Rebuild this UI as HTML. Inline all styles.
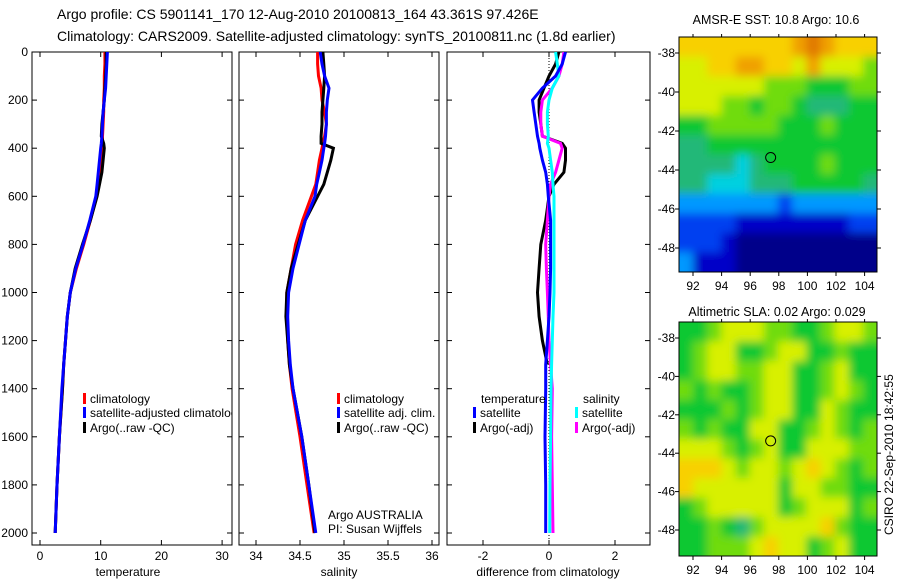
<!DOCTYPE html>
<html><head><meta charset="utf-8"><style>
body{margin:0;background:#fff;}
svg{display:block;font-family:"Liberation Sans",sans-serif;}
</style></head><body>
<svg id="chart" width="900" height="580">
<defs>
<filter id="blur" filterUnits="userSpaceOnUse" x="660" y="0" width="240" height="580"><feGaussianBlur stdDeviation="4.5"/></filter>
<clipPath id="c1"><rect x="32" y="52" width="200" height="493"/></clipPath>
<clipPath id="c2"><rect x="239" y="52" width="200" height="493"/></clipPath>
<clipPath id="c3"><rect x="447" y="52" width="203" height="493"/></clipPath>
<clipPath id="m1"><rect x="679" y="37" width="198" height="235"/></clipPath>
<clipPath id="m2"><rect x="679" y="322" width="198" height="234"/></clipPath>
</defs>
<text x="57" y="19" font-size="14">Argo profile: CS 5901141_170 12-Aug-2010 20100813_164 43.361S 97.426E</text>
<text x="57" y="41" font-size="14">Climatology: CARS2009. Satellite-adjusted climatology: synTS_20100811.nc (1.8d earlier)</text>
<text x="776" y="24" font-size="12.5" text-anchor="middle">AMSR-E SST: 10.8 Argo: 10.6</text>
<text x="777" y="316" font-size="12.5" text-anchor="middle">Altimetric SLA: 0.02 Argo: 0.029</text>
<text transform="translate(893,535) rotate(-90)" font-size="12">CSIRO 22-Sep-2010 18:42:55</text>
<text x="128" y="576" font-size="12" text-anchor="middle">temperature</text>
<text x="339" y="576" font-size="12" text-anchor="middle">salinity</text>
<text x="548" y="576" font-size="12" text-anchor="middle">difference from climatology</text>
<text x="328" y="519" font-size="12">Argo AUSTRALIA</text>
<text x="328" y="533" font-size="12">PI: Susan Wijffels</text>
<g id="g"></g>
</svg>
<script>
// ---------- data ----------
const depthTicks=[0,200,400,600,800,1000,1200,1400,1600,1800,2000];
const tempTicks=[0,10,20,30];
const salTicks=[34,34.5,35,35.5,36];
const diffTicks=[-2,0,2];
const depths=[0,50,100,150,200,250,300,350,380,400,450,500,550,600,700,800,900,1000,1100,1200,1300,1400,1600,1800,2000];
const tempClim=[10.7,10.7,10.6,10.6,10.5,10.5,10.4,10.3,10.3,10.3,10.1,9.9,9.6,9.3,8.3,7.2,6.0,5.0,4.5,4.2,3.9,3.7,3.2,2.8,2.5];
const tempSat =[11.1,11.0,10.9,10.8,10.6,10.4,10.3,10.2,10.1,10.0,9.8,9.6,9.4,9.2,8.2,7.1,5.9,5.0,4.5,4.2,3.9,3.6,3.2,2.8,2.5];
const tempArgo=[10.9,10.9,10.8,10.7,10.6,10.4,10.2,10.1,10.5,10.6,10.4,10.2,9.8,9.4,8.3,7.0,5.8,5.0,4.5,4.2,3.9,3.7,3.2,2.8,2.5];
const salClim=[34.70,34.70,34.71,34.74,34.75,34.78,34.80,34.78,34.76,34.75,34.72,34.70,34.68,34.63,34.53,34.45,34.40,34.35,34.35,34.36,34.38,34.41,34.50,34.58,34.66];
const salSat =[34.73,34.75,34.78,34.83,34.81,34.80,34.80,34.79,34.78,34.77,34.75,34.72,34.69,34.67,34.56,34.49,34.42,34.37,34.36,34.37,34.39,34.42,34.52,34.60,34.68];
const salArgo=[34.76,34.77,34.78,34.77,34.76,34.75,34.75,34.74,34.74,34.88,34.85,34.81,34.77,34.70,34.56,34.48,34.40,34.35,34.34,34.36,34.38,34.42,34.52,34.60,34.67];
const dTempSat =[0.5,0.4,0.2,-0.2,-0.5,-0.45,-0.4,-0.35,-0.3,-0.28,-0.2,-0.1,-0.05,-0.02,0.05,0.05,0.05,0.03,0.0,-0.05,-0.1,-0.1,-0.12,-0.1,-0.1];
const dTempArgo=[0.3,0.2,0.0,-0.15,-0.3,-0.3,-0.25,-0.2,0.4,0.5,0.5,0.45,0.15,0.0,-0.1,-0.25,-0.3,-0.35,-0.3,-0.2,-0.05,null,null,null,null];
const dSalSat  =[0.2,0.25,0.3,0.1,0.0,-0.05,-0.05,-0.02,-0.05,0.0,0.05,0.1,0.12,0.15,0.15,0.15,0.15,0.15,0.12,0.1,0.08,0.06,0.05,0.03,0.02];
const dSalArgo =[0.45,0.4,0.3,0.1,-0.2,-0.25,-0.25,-0.2,0.35,0.4,0.3,0.2,0.05,0.0,-0.05,-0.1,-0.08,-0.05,-0.02,0.0,0.05,0.1,0.08,0.1,0.12];
const lonTicks=[92,94,96,98,100,102,104];
const latTicks=[-38,-40,-42,-44,-46,-48];
const sstGrid=[
[9,9,9,9,9,9,9,9,10,11,10,9,9,9],
[8,8,9,9,10,10,9,9,8,10,8,8,8,7],
[8,8,8,8,8,8,7,7,7,6,6,6,7,7],
[8,8,8,7,7,6,7,7,6,5,5,5,6,6],
[6,6,7,7,7,7,7,6,6,6,7,6,6,6],
[5,5,6,6,6,6,6,6,6,6,6,6,6,6],
[5,5,5,5,4,5,6,6,6,6,7,6,6,6],
[5,5,4,4,4,5,5,5,6,6,6,6,6,5],
[3,3,3,3,3,3,3,2,3,3,3,3,3,3],
[2,2,2,2,1,1,1,1,1,1,1,1,2,2],
[2,2,2,1,0,0,0,0,0,0,0,0,0,0],
[3,1,1,1,0,0,0,0,0,0,0,0,0,0]];
const slaGrid=[
[6,6,7,8,8,8,7,7,6,6,7,8,8,7],
[6,7,8,8,6,6,7,8,8,6,6,7,6,6],
[6,7,8,8,7,7,8,8,6,6,7,8,6,6],
[7,6,7,6,6,7,8,8,6,6,7,8,7,6],
[6,6,6,7,6,7,8,8,6,6,8,7,6,6],
[7,6,7,6,6,8,8,6,6,7,8,7,6,7],
[8,8,8,7,6,7,8,6,6,8,8,8,7,7],
[9,9,9,8,7,8,8,7,8,9,8,7,6,7],
[9,8,8,8,8,8,8,6,8,8,7,7,6,6],
[6,7,8,8,8,8,8,6,7,8,8,8,6,7],
[6,6,7,6,5,7,8,8,8,8,9,7,6,6],
[6,6,7,7,7,8,9,8,8,6,7,8,6,6]];
const argoLon=97.43, argoLat=-43.36;
// ---------- drawing ----------
const NS="http://www.w3.org/2000/svg";
const G=document.getElementById('g');
function el(tag,attrs,parent,txt){const e=document.createElementNS(NS,tag);for(const k in attrs)e.setAttribute(k,attrs[k]);if(txt!==undefined)e.textContent=txt;(parent||G).appendChild(e);return e;}
const yTop=52,yBot=545;
const yD=d=>52+d*0.2405;
const panels=[
 {x0:32,x1:232,sx:v=>40+v*6.07,ticks:tempTicks,clip:'c1',name:'temperature'},
 {x0:239,x1:439,sx:v=>256+(v-34)*88,ticks:salTicks,clip:'c2',name:'salinity'},
 {x0:447,x1:650,sx:v=>549+v*33,ticks:diffTicks,clip:'c3',name:'difference'}];
panels.forEach((p,i)=>{
 const a=el('g',{});
 
 
 el('rect',{x:p.x0,y:yTop,width:p.x1-p.x0,height:yBot-yTop,fill:'none',stroke:'#000','stroke-width':1},a);
 depthTicks.forEach(d=>{const y=yD(d);
  el('line',{x1:p.x0,x2:p.x0+5,y1:y,y2:y,stroke:'#000'},a);
  el('line',{x1:p.x1,x2:p.x1-5,y1:y,y2:y,stroke:'#000'},a);
  if(i===0){const t=el('text',{x:28,y:y+4,'font-size':12,'text-anchor':'end'},a,String(d));
   
   }
 });
 p.ticks.forEach(v=>{const x=p.sx(v);
  el('line',{x1:x,x2:x,y1:yBot,y2:yBot-5,stroke:'#000'},a);
  el('line',{x1:x,x2:x,y1:yTop,y2:yTop+5,stroke:'#000'},a);
  const t=el('text',{x:x,y:yBot+15,'font-size':12,'text-anchor':'middle'},a,String(v));
  
  
 });
});
function line(p,vals,color,name){
 let d='';let pen=false;
 vals.forEach((v,k)=>{if(v===null){pen=false;return;}d+=(pen?'L':'M')+p.sx(v).toFixed(1)+','+yD(depths[k]).toFixed(1);pen=true;});
 const e=el('path',{d:d,fill:'none',stroke:color,'stroke-width':3,'clip-path':'url(#'+p.clip+')'});
 
 
}
el('line',{x1:549,x2:549,y1:yTop,y2:yBot,stroke:'#000','stroke-dasharray':'1,2'});
line(panels[0],tempClim,'#f00','temp-climatology-line');
line(panels[0],tempArgo,'#000','temp-argo-line');
line(panels[0],tempSat,'#00f','temp-satellite-line');
line(panels[1],salClim,'#f00','sal-climatology-line');
line(panels[1],salArgo,'#000','sal-argo-line');
line(panels[1],salSat,'#00f','sal-satellite-line');
line(panels[2],dTempArgo,'#000','dtemp-argo-line');
line(panels[2],dSalArgo,'#f0f','dsal-argo-line');
line(panels[2],dSalSat,'#0ff','dsal-satellite-line');
line(panels[2],dTempSat,'#00f','dtemp-satellite-line');
function legend(x,y,color,label,clip){
 const g=el('g',clip?{'clip-path':'url(#'+clip+')'}:{});
 
 
 el('rect',{x:x,y:y-10,width:3,height:11,fill:color},g);
 el('text',{x:x+7,y:y,'font-size':12},g,label);
}
legend(83,403,'#f00','climatology','c1');
legend(83,417,'#00f','satellite-adjusted climatology','c1');
legend(83,432,'#000','Argo(..raw -QC)','c1');
legend(337,403,'#f00','climatology','c2');
legend(337,417,'#00f','satellite adj. clim.','c2');
legend(337,432,'#000','Argo(..raw -QC)','c2');
el('text',{x:481,y:403,'font-size':12},G,'temperature');
el('text',{x:583,y:403,'font-size':12},G,'salinity');
legend(473,417,'#00f','satellite');
legend(473,432,'#000','Argo(-adj)');
legend(575,417,'#0ff','satellite');
legend(575,432,'#f0f','Argo(-adj)');
const cmap=['#00008a','#0000c8','#0040f0','#0098ff','#00d0e0','#20b878','#10c830','#70dc10','#d8f000','#f8d000','#f0a000','#e07800'];
function map(grid,x0,y0,w,h,clip,latScale,name){
 const g=el('g',{});
 
 
 const inner=el('g',{'clip-path':'url(#'+clip+')'},g);
 const cells=el('g',{filter:'url(#blur)'},inner);
 const rows=grid.length,cols=grid[0].length,cw=w/cols,ch=h/rows;
 grid.forEach((r,ri)=>r.forEach((v,ci)=>{
  const c=el('rect',{x:x0+ci*cw-(ci===0?10:0),y:y0+ri*ch-(ri===0?10:0),width:cw+1+(ci===0||ci===cols-1?10:0),height:ch+1+(ri===0||ri===rows-1?10:0),fill:cmap[v]},cells);
  
  
 }));
 el('rect',{x:x0,y:y0,width:w,height:h,fill:'none',stroke:'#000'},g);
 const lx=v=>693+(v-92)*14.3;
 const ly=latScale;
 lonTicks.forEach(v=>{const x=lx(v);
  el('line',{x1:x,x2:x,y1:y0+h,y2:y0+h+4,stroke:'#000'},g);
  el('line',{x1:x,x2:x,y1:y0,y2:y0-3,stroke:'#000'},g);
  el('text',{x:x,y:y0+h+18,'font-size':12,'text-anchor':'middle'},g,String(v));});
 latTicks.forEach(v=>{const y=ly(v);
  el('line',{x1:x0-4,x2:x0,y1:y,y2:y,stroke:'#000'},g);
  el('line',{x1:x0+w,x2:x0+w+4,y1:y,y2:y,stroke:'#000'},g);
  el('text',{x:x0-4,y:y+4,'font-size':12,'text-anchor':'end'},g,String(v));});
 const m=el('ellipse',{cx:lx(argoLon),cy:ly(argoLat),rx:5,ry:5,fill:'none',stroke:'#000'},g);
 
 
}
map(sstGrid,679,37,198,235,'m1',v=>53+(-38-v)*19.5,'sst-map');
map(slaGrid,679,322,198,234,'m2',v=>338+(-38-v)*19.2,'sla-map');
</script>
</body></html>
